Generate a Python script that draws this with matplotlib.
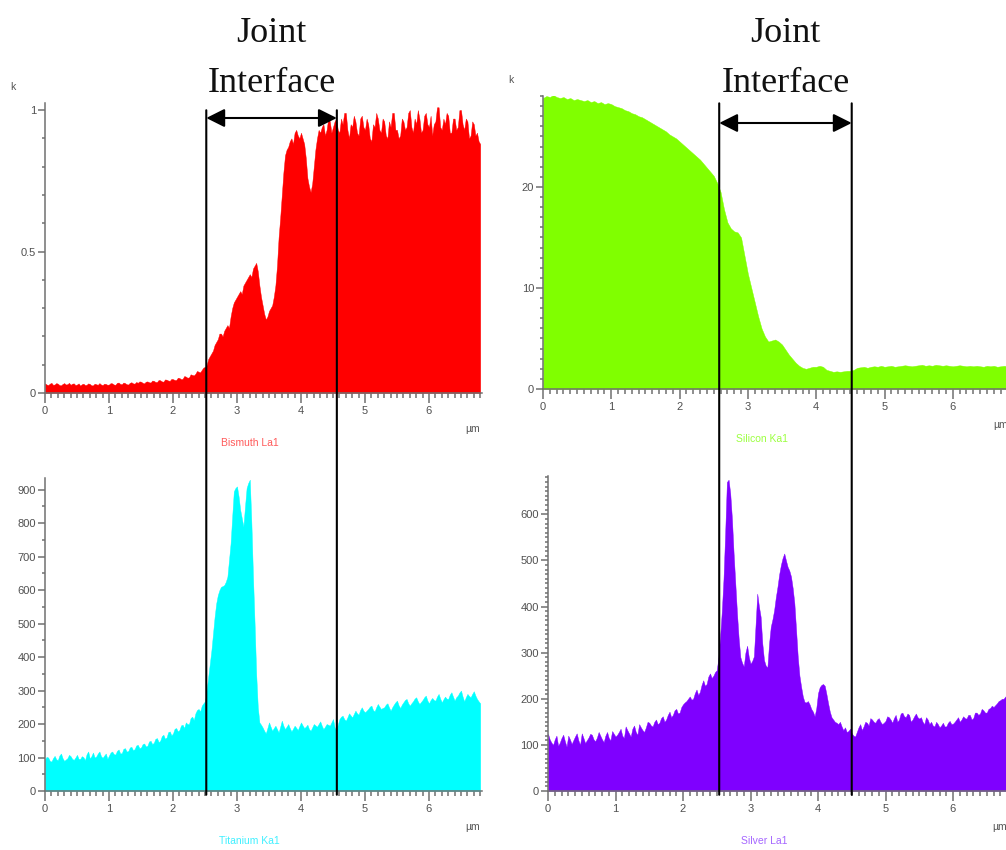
import matplotlib
matplotlib.use("Agg")
import matplotlib.pyplot as plt
import matplotlib.transforms as mtransforms
import numpy as np
from matplotlib.patches import ConnectionPatch
from matplotlib.ticker import MultipleLocator, FuncFormatter

# line-scan samples (k counts), one row per 0.5 um
BISMUTH_STEP = 0.025
bismuth = [
    0.034, 0.030, 0.028, 0.033, 0.036, 0.029, 0.030, 0.035, 0.033, 0.028, 0.027, 0.032, 0.035, 0.030, 0.031, 0.036, 0.029, 0.033, 0.034, 0.028,
    0.030, 0.034, 0.026, 0.031, 0.033, 0.028, 0.029, 0.034, 0.032, 0.027, 0.027, 0.033, 0.031, 0.029, 0.035, 0.030, 0.028, 0.033, 0.032, 0.029,
    0.030, 0.035, 0.034, 0.030, 0.029, 0.036, 0.037, 0.032, 0.031, 0.037, 0.035, 0.031, 0.030, 0.036, 0.038, 0.034, 0.033, 0.039, 0.036, 0.041,
    0.040, 0.036, 0.034, 0.040, 0.041, 0.038, 0.037, 0.044, 0.043, 0.039, 0.039, 0.046, 0.045, 0.041, 0.040, 0.048, 0.047, 0.044, 0.043, 0.050,
    0.049, 0.046, 0.046, 0.054, 0.053, 0.049, 0.050, 0.060, 0.058, 0.054, 0.055, 0.066, 0.064, 0.062, 0.068, 0.078, 0.075, 0.073, 0.082, 0.090,
    0.092, 0.098, 0.12, 0.13, 0.14, 0.15, 0.17, 0.18, 0.19, 0.21, 0.21, 0.20, 0.22, 0.23, 0.24, 0.23, 0.27, 0.30, 0.32, 0.33,
    0.34, 0.35, 0.36, 0.35, 0.38, 0.39, 0.40, 0.41, 0.42, 0.41, 0.44, 0.45, 0.46, 0.43, 0.38, 0.34, 0.31, 0.28, 0.26, 0.27,
    0.29, 0.30, 0.31, 0.34, 0.38, 0.45, 0.55, 0.62, 0.70, 0.78, 0.84, 0.86, 0.87, 0.89, 0.90, 0.88, 0.92, 0.93, 0.91, 0.90,
    0.92, 0.90, 0.88, 0.83, 0.76, 0.73, 0.71, 0.74, 0.80, 0.86, 0.90, 0.93, 0.92, 0.94, 0.95, 0.91, 0.93, 0.97, 0.96, 0.92,
    0.94, 0.96, 0.97, 0.93, 0.92, 0.97, 0.95, 0.99, 0.99, 0.93, 0.90, 0.95, 0.94, 0.98, 0.96, 0.92, 0.91, 0.97, 0.98, 0.94,
    0.93, 0.97, 0.95, 0.90, 0.89, 0.95, 0.94, 0.99, 0.97, 0.93, 0.92, 0.97, 0.96, 0.91, 0.90, 0.96, 0.94, 0.99, 0.99, 0.93,
    0.93, 0.90, 0.91, 0.97, 0.96, 0.93, 0.94, 0.99, 1.00, 0.94, 0.92, 0.97, 0.95, 1.00, 0.97, 0.92, 0.93, 0.98, 0.99, 0.95,
    0.94, 0.98, 0.91, 0.95, 0.96, 1.01, 1.01, 0.94, 0.93, 0.97, 0.95, 0.99, 0.98, 0.92, 0.92, 0.97, 0.97, 0.93, 0.94, 1.00,
    1.00, 0.95, 0.93, 0.97, 0.96, 0.90, 0.91, 0.96, 0.95, 0.91, 0.92, 0.89, 0.88,
]

SILICON_STEP = 0.05
silicon = [
    28.8, 29.0, 28.9, 29.1, 28.9, 28.8, 28.9, 28.7, 28.8, 28.6,
    28.7, 28.6, 28.5, 28.6, 28.4, 28.5, 28.3, 28.4, 28.2, 28.3,
    28.2, 28.0, 27.9, 27.8, 27.6, 27.5, 27.3, 27.2, 27.0, 26.9,
    26.7, 26.5, 26.3, 26.1, 25.9, 25.7, 25.5, 25.2, 25.0, 24.8,
    24.5, 24.2, 23.9, 23.6, 23.3, 23.0, 22.7, 22.3, 21.9, 21.5,
    21.1, 20.4, 19.5, 17.8, 16.5, 15.9, 15.6, 15.5, 15.0, 13.2,
    11.4, 10.0, 8.6, 7.2, 6.0, 5.2, 4.7, 4.8, 4.9, 4.7,
    4.4, 3.9, 3.4, 3.0, 2.6, 2.3, 2.1, 2.0, 2.1, 2.2,
    2.2, 2.3, 2.2, 1.9, 1.8, 1.7, 1.75, 1.7, 1.75, 1.8,
    1.8, 1.9, 2.1, 2.15, 2.2, 2.1, 2.2, 2.25, 2.2, 2.3,
    2.2, 2.25, 2.3, 2.2, 2.25, 2.3, 2.35, 2.3, 2.25, 2.3,
    2.35, 2.4, 2.3, 2.35, 2.3, 2.4, 2.35, 2.3, 2.35, 2.3,
    2.25, 2.3, 2.35, 2.3, 2.25, 2.3, 2.25, 2.3, 2.25, 2.2,
    2.3, 2.25, 2.3, 2.2, 2.25, 2.3, 2.25,
]

TITANIUM_STEP = 0.025
titanium = [
    95, 102, 100, 90, 88, 98, 105, 95, 92, 106, 112, 98, 90, 94, 98, 108, 104, 96, 93, 100,
    108, 96, 96, 104, 101, 92, 110, 118, 97, 104, 115, 100, 103, 112, 118, 104, 99, 106, 112, 96,
    106, 115, 118, 110, 109, 120, 124, 112, 113, 126, 128, 118, 119, 130, 132, 122, 125, 136, 138, 128,
    130, 140, 142, 133, 135, 148, 150, 140, 144, 156, 158, 146, 150, 164, 168, 156, 160, 176, 178, 166,
    172, 186, 188, 178, 182, 196, 198, 188, 205, 200, 200, 218, 222, 212, 232, 242, 245, 238, 255, 262,
    268, 300, 340, 380, 420, 470, 520, 560, 585, 600, 610, 612, 615, 625, 640, 690, 740, 820, 895, 905,
    910, 880, 840, 815, 790, 850, 905, 920, 930, 800, 640, 500, 350, 250, 205, 198, 190, 180, 172, 188,
    205, 192, 180, 188, 195, 185, 175, 192, 210, 195, 185, 192, 200, 188, 178, 186, 195, 189, 182, 194,
    205, 196, 188, 192, 198, 185, 180, 190, 200, 196, 192, 200, 208, 195, 185, 192, 200, 198, 195, 205,
    215, 190, 180, 198, 215, 222, 225, 215, 210, 220, 232, 226, 220, 230, 240, 232, 228, 242, 250, 240,
    235, 240, 245, 252, 255, 242, 238, 250, 260, 252, 245, 248, 250, 258, 262, 250, 240, 250, 258, 265,
    270, 256, 248, 258, 265, 272, 275, 262, 255, 262, 268, 276, 280, 268, 260, 266, 272, 280, 285, 270,
    262, 272, 278, 272, 270, 282, 290, 276, 265, 274, 282, 276, 275, 288, 295, 282, 270, 280, 285, 294,
    300, 282, 268, 280, 290, 284, 280, 290, 298, 285, 275, 268, 262,
]

SILVER_STEP = 0.025
silver = [
    124, 112, 105, 100, 112, 120, 98, 105, 115, 122, 108, 96, 120, 112, 102, 110, 118, 125, 110, 100,
    125, 115, 104, 110, 116, 124, 122, 112, 108, 116, 128, 120, 112, 106, 120, 128, 115, 110, 130, 124,
    118, 122, 128, 135, 120, 115, 140, 132, 125, 118, 135, 142, 128, 122, 145, 138, 132, 128, 138, 150,
    148, 142, 140, 150, 155, 145, 148, 158, 162, 150, 155, 165, 172, 160, 165, 175, 178, 168, 170, 182,
    188, 192, 195, 200, 205, 198, 200, 212, 220, 208, 215, 230, 240, 228, 232, 248, 255, 245, 250, 258,
    262, 290, 335, 390, 460, 560, 670, 675, 645, 590, 515, 450, 385, 330, 290, 278, 270, 300, 315, 290,
    276, 282, 292, 360, 428, 400, 378, 320, 284, 272, 268, 320, 356, 372, 392, 420, 443, 470, 490, 505,
    515, 500, 486, 478, 465, 440, 407, 350, 291, 250, 226, 205, 193, 192, 195, 188, 178, 172, 162, 180,
    212, 225, 230, 232, 228, 210, 190, 172, 160, 155, 150, 148, 145, 150, 140, 132, 138, 128, 130, 135,
    125, 120, 118, 128, 138, 145, 132, 140, 150, 148, 142, 158, 155, 150, 148, 155, 158, 150, 145, 148,
    152, 162, 160, 155, 148, 158, 165, 150, 155, 168, 170, 162, 160, 168, 165, 150, 155, 162, 168, 160,
    157, 160, 150, 145, 160, 155, 145, 150, 142, 140, 150, 145, 138, 142, 148, 140, 140, 148, 152, 145,
    146, 150, 155, 160, 150, 155, 162, 158, 157, 165, 165, 155, 158, 170, 170, 165, 168, 178, 175, 170,
    170, 178, 180, 185, 182, 186, 190, 195, 197, 200, 200, 205, 205,
]

# element, series, sample step, fill colour, label colour, y top, major, minor, show "k"
panels = [
    ("Bismuth La1", bismuth, BISMUTH_STEP, "#ff0000", "#ff5a5a", 1.025, 0.5, 0.1, True),
    ("Silicon Ka1", silicon, SILICON_STEP, "#80ff00", "#9cff40", 29.0, 10, 1, True),
    ("Titanium Ka1", titanium, TITANIUM_STEP, "#00ffff", "#40f0ff", 935, 100, 50, False),
    ("Silver La1", silver, SILVER_STEP, "#7f00ff", "#a566ff", 683, 100, 10, False),
]
interface_left = (2.52, 4.56)
interface_right = (2.58, 4.52)

# axes boxes in pixels: x of 0 um, px per um, y of zero line, y of axis top
boxes = [
    (45, 64.0, 393, 103),
    (543, 68.3, 389, 96),
    (45, 64.0, 791, 478),
    (548, 67.5, 791, 476),
]
X_MAX = 6.83
W, H = 1006, 850
AXIS_GREY = "#707070"

fig = plt.figure(figsize=(W / 100, H / 100), dpi=100)
axes = []
for (name, values, step, colour, label_colour, ytop, major, minor, show_k), (x0, ppu, y0, yt) in zip(panels, boxes):
    ax = fig.add_axes([x0 / W, (H - y0) / H, X_MAX * ppu / W, (y0 - yt) / H])
    dist = np.arange(len(values)) * step
    ax.fill_between(dist, 0, values, color=colour, linewidth=0.3, edgecolor=colour, zorder=2)
    ax.set_xlim(0, X_MAX)
    ax.set_ylim(0, ytop)
    for side in ("top", "right"):
        ax.spines[side].set_visible(False)
    for side in ("left", "bottom"):
        ax.spines[side].set_color(AXIS_GREY)
        ax.spines[side].set_linewidth(1.1)
        ax.spines[side].set_zorder(3)
    ax.xaxis.set_major_locator(MultipleLocator(1))
    ax.xaxis.set_minor_locator(MultipleLocator(0.1))
    ax.yaxis.set_major_locator(MultipleLocator(major))
    ax.yaxis.set_minor_locator(MultipleLocator(minor))
    ax.yaxis.set_major_formatter(FuncFormatter(lambda v, p: f"{v:g}"))
    ax.tick_params(which="both", direction="out", color=AXIS_GREY, labelcolor="#505050",
                   labelsize=8, width=1.1)
    ax.tick_params(axis="x", which="major", length=7.5, pad=1.5)
    ax.tick_params(axis="x", which="minor", length=3.8)
    ax.tick_params(axis="y", which="major", length=5, pad=1.5)
    ax.tick_params(axis="y", which="minor", length=2.5)
    for lab in ax.get_xticklabels() + ax.get_yticklabels():
        lab.set_family("Liberation Sans")
    ax.patch.set_alpha(0)
    ax.annotate(name, xy=(3.2, 0), xycoords=("data", "axes fraction"), xytext=(0, -50),
                textcoords="offset pixels", ha="center", va="center", color=label_colour,
                fontsize=7.5, family="Liberation Sans", annotation_clip=False)
    ax.annotate("µm", xy=(1, 0), xycoords="axes fraction", xytext=(-2, -36),
                textcoords="offset pixels", ha="right", va="center", color="#555555",
                fontsize=7.5, family="Liberation Sans", annotation_clip=False)
    if show_k:
        ax.annotate("k", xy=(0, 1), xycoords="axes fraction", xytext=(-32, 16),
                    textcoords="offset pixels", ha="center", va="center", color="#555555",
                    fontsize=7.5, family="Liberation Sans", annotation_clip=False)
    axes.append(ax)

# interface lines, arrows and titles
for top, bottom, (xa, xb), arrow_px in [(axes[0], axes[2], interface_left, 118),
                                        (axes[1], axes[3], interface_right, 123)]:
    ytop = top.get_ylim()[1]
    ybot = bottom.get_ylim()[1]
    bottom_tf = mtransforms.blended_transform_factory(top.transData, bottom.transData)
    for xv in (xa, xb):
        con = ConnectionPatch(xyA=(xv, ytop * 0.975), coordsA=top.transData,
                              xyB=(xv, -ybot * 0.012), coordsB=bottom_tf,
                              color="black", lw=1.5, zorder=5)
        fig.add_artist(con)
    top.annotate("", xy=(xb, H - arrow_px), xycoords=("data", "figure pixels"),
                 xytext=(xa, H - arrow_px), textcoords=("data", "figure pixels"),
                 arrowprops=dict(arrowstyle="<|-|>", color="black", lw=1.5,
                                 mutation_scale=28, shrinkA=0, shrinkB=0),
                 annotation_clip=False)
    mid = (xa + xb) / 2
    for text, ypx in (("Joint", 34), ("Interface", 84)):
        top.annotate(text, xy=(mid, H - ypx), xycoords=("data", "figure pixels"),
                     ha="center", va="center", fontsize=26, family="Liberation Serif",
                     color="#111111", annotation_clip=False)

fig.savefig("out.png", dpi=100)
